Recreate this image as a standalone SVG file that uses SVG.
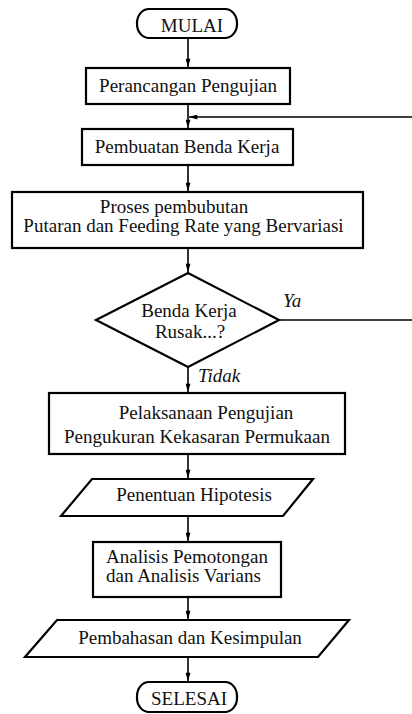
<svg xmlns="http://www.w3.org/2000/svg" width="412" height="714" viewBox="0 0 412 714">
<style>
.shape{fill:#fff;stroke:#000;stroke-width:2.2}
.t{font-family:"Liberation Serif","Times New Roman",serif;font-size:19px;fill:#111}
.c{text-anchor:middle}
.i{font-style:italic}
.ln{stroke:#000;stroke-width:1.6;fill:none}
</style>
<defs>
<marker id="ah" markerUnits="userSpaceOnUse" viewBox="0 0 10 6" refX="10" refY="3" markerWidth="10" markerHeight="5" orient="auto">
<path d="M0,0 L10,3 L0,6 z" fill="#000"/>
</marker>
</defs>
<g id="connectors">
<line class="ln" x1="188" y1="38" x2="188" y2="67" marker-end="url(#ah)"/>
<line class="ln" x1="188" y1="104" x2="188" y2="128" marker-end="url(#ah)"/>
<line class="ln" x1="412" y1="117" x2="189" y2="117" marker-end="url(#ah)"/>
<line class="ln" x1="188" y1="165" x2="188" y2="191" marker-end="url(#ah)"/>
<line class="ln" x1="188" y1="248" x2="188" y2="272" marker-end="url(#ah)"/>
<line class="ln" x1="279" y1="320" x2="412" y2="320"/>
<line class="ln" x1="188" y1="367" x2="188" y2="392" marker-end="url(#ah)"/>
<line class="ln" x1="188" y1="454" x2="188" y2="478" marker-end="url(#ah)"/>
<line class="ln" x1="188" y1="516" x2="188" y2="541" marker-end="url(#ah)"/>
<line class="ln" x1="188" y1="597" x2="188" y2="619" marker-end="url(#ah)"/>
<line class="ln" x1="188" y1="657" x2="188" y2="681" marker-end="url(#ah)"/>
<text class="t i" x="283" y="307">Ya</text>
<text class="t i" x="198" y="382">Tidak</text>
</g>
<g id="mulai">
<rect class="shape" x="137" y="9" width="100" height="29" rx="12" ry="14"/>
<text class="t c" x="192" y="32">MULAI</text>
</g>
<g id="perancangan">
<rect class="shape" x="86" y="68" width="204" height="36"/>
<text class="t c" x="188" y="92">Perancangan Pengujian</text>
</g>
<g id="pembuatan">
<rect class="shape" x="82" y="129" width="211" height="36"/>
<text class="t c" x="187" y="153">Pembuatan Benda Kerja</text>
</g>
<g id="proses">
<rect class="shape" x="12" y="192" width="351" height="56"/>
<text class="t c" x="174" y="213">Proses pembubutan</text>
<text class="t c" x="183.5" y="232">Putaran dan Feeding Rate yang Bervariasi</text>
</g>
<g id="keputusan">
<polygon class="shape" points="188,273 279,320 188,367 96,320"/>
<text class="t c" x="189" y="317">Benda Kerja</text>
<text class="t c" x="190" y="338">Rusak...?</text>
</g>
<g id="pelaksanaan">
<rect class="shape" x="49" y="393" width="296" height="61"/>
<text class="t c" x="206" y="419">Pelaksanaan Pengujian</text>
<text class="t c" x="197" y="443">Pengukuran Kekasaran Permukaan</text>
</g>
<g id="hipotesis">
<polygon class="shape" points="92,479 313,479 283,516 61,516"/>
<text class="t c" x="194" y="501">Penentuan Hipotesis</text>
</g>
<g id="analisis">
<rect class="shape" x="93" y="542" width="188" height="55"/>
<text class="t" x="106" y="563">Analisis Pemotongan</text>
<text class="t" x="106" y="582">dan Analisis Varians</text>
</g>
<g id="pembahasan">
<polygon class="shape" points="57,620 349,620 318,657 25,657"/>
<text class="t c" x="190" y="644">Pembahasan dan Kesimpulan</text>
</g>
<g id="selesai">
<rect class="shape" x="137" y="682" width="100" height="30" rx="12" ry="14"/>
<text class="t c" x="189" y="705">SELESAI</text>
</g>
</svg>
